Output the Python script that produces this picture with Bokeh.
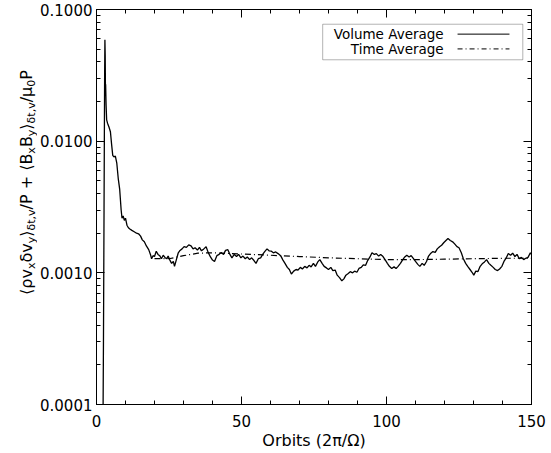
import math
from bokeh.plotting import figure
from bokeh.layouts import row
from bokeh.models import (Range1d, FixedTicker, LinearAxis, LogAxis, PrintfTickFormatter,
                          CustomJSTickFormatter, Label, BoxAnnotation, Arrow)
from bokeh.embed import file_html
from bokeh.resources import INLINE

# ---------------- data ----------------
orbits = [2.2, 2.4, 2.6, 2.8, 2.9, 3.0, 3.1, 3.15, 3.3, 3.5, 3.8, 4.3, 4.8, 5.2, 5.6, 6.0, 6.5,
          7.0, 7.5, 8.0, 8.5, 8.8, 9.2, 9.6, 10.0, 10.5, 11.0, 11.5, 12.2, 13.0, 13.8, 14.5,
          15.2, 15.8, 16.5, 17.2, 18.0, 18.6, 19.0, 19.5, 20.0, 20.6, 21.2, 21.8, 22.4, 23.0,
          23.6, 24.2, 24.7, 25.3, 25.9, 26.5, 26.9, 27.5, 28.2, 28.8, 29.5, 30.2, 31.0, 31.8,
          32.6, 33.3, 34.0, 34.8, 35.5, 36.2, 37.0, 37.8, 38.5, 39.3, 40.0, 40.7, 41.5, 42.3,
          43.0, 43.8, 44.5, 45.3, 46.0, 46.7, 47.5, 48.3, 49.0, 49.8, 50.5, 51.3, 52.0, 52.8,
          53.5, 54.3, 55.0, 55.8, 56.6, 57.3, 58.0, 58.8, 59.5, 60.3, 61.0, 61.8, 62.6, 63.5,
          64.3, 65.0, 65.8, 66.5, 67.2, 68.0, 68.8, 69.5, 70.3, 71.0, 71.8, 72.6, 73.3, 74.0,
          74.8, 75.5, 76.3, 77.0, 77.8, 78.5, 79.3, 80.0, 80.8, 81.5, 82.3, 83.0, 83.8, 84.6,
          85.3, 86.0, 86.8, 87.5, 88.3, 89.0, 89.8, 90.5, 91.3, 92.0, 92.8, 93.5, 94.3, 95.0,
          95.8, 96.5, 97.3, 98.0, 98.8, 99.5, 100.3, 101.0, 101.8, 102.6, 103.3, 104.0, 104.8,
          105.5, 106.3, 107.0, 107.8, 108.5, 109.3, 110.0, 110.8, 111.5, 112.3, 113.0, 113.8,
          114.5, 115.3, 116.0, 116.8, 117.5, 118.3, 119.0, 119.8, 120.5, 121.2, 122.0, 122.8,
          123.5, 124.3, 125.0, 125.8, 126.5, 127.3, 128.0, 128.8, 129.5, 130.1, 130.8, 131.5,
          132.3, 133.0, 133.8, 134.5, 135.3, 136.0, 136.8, 137.5, 138.3, 139.0, 139.8, 140.5,
          141.3, 142.0, 142.8, 143.5, 144.3, 145.0, 145.8, 146.5, 147.3, 148.0, 148.8, 149.6,
          150.0]
volume_average = [0.00005, 0.0003, 0.003, 0.03, 0.059, 0.045, 0.022, 0.027, 0.019, 0.0145,
                  0.0137, 0.0128, 0.0118, 0.0095, 0.0078, 0.0076, 0.0077, 0.0068, 0.0052,
                  0.0043, 0.0030, 0.0026, 0.0027, 0.0025, 0.0026, 0.0023, 0.0022, 0.00215,
                  0.0021, 0.00205, 0.0020, 0.00198, 0.0019, 0.00178, 0.00172, 0.0016, 0.0015,
                  0.00138, 0.00128, 0.00135, 0.00133, 0.00146, 0.00138, 0.00135, 0.00128,
                  0.00136, 0.00131, 0.00128, 0.00134, 0.00125, 0.00118, 0.00122, 0.00112,
                  0.00125, 0.00142, 0.00148, 0.00152, 0.00158, 0.00156, 0.00163, 0.0016,
                  0.00152, 0.00155, 0.00149, 0.00156, 0.00147, 0.00152, 0.00158, 0.00143,
                  0.00132, 0.00125, 0.00122, 0.00135, 0.00138, 0.00143, 0.00138, 0.00148,
                  0.0015, 0.00138, 0.0013, 0.00138, 0.00133, 0.00138, 0.0013, 0.00134,
                  0.00128, 0.00132, 0.00126, 0.0013, 0.00124, 0.00118, 0.00128, 0.0013,
                  0.00138, 0.00145, 0.00152, 0.00147, 0.00146, 0.00142, 0.00144, 0.0014,
                  0.00135, 0.00125, 0.00118, 0.0011, 0.00106, 0.00098, 0.00103, 0.00106,
                  0.00105, 0.0011, 0.00107, 0.00112, 0.00109, 0.00114, 0.00111, 0.00118,
                  0.00112, 0.00121, 0.00126, 0.00118, 0.00112, 0.00109, 0.00106, 0.0011,
                  0.00104, 0.00105, 0.00096, 0.00092, 0.00087, 0.0009, 0.00096, 0.00099,
                  0.00102, 0.001, 0.00103, 0.00101, 0.00108, 0.0011, 0.00115, 0.00114,
                  0.00124, 0.00132, 0.00142, 0.00138, 0.0014, 0.00134, 0.00138, 0.00133,
                  0.00126, 0.00118, 0.00112, 0.00108, 0.00111, 0.00108, 0.00112, 0.00118,
                  0.00125, 0.00132, 0.00136, 0.00132, 0.00135, 0.00128, 0.00122, 0.00116,
                  0.00112, 0.00118, 0.00114, 0.00122, 0.00134, 0.00141, 0.00145, 0.00143,
                  0.00152, 0.00158, 0.00162, 0.0017, 0.00176, 0.00182, 0.00176, 0.00172,
                  0.00166, 0.00158, 0.00155, 0.00142, 0.00128, 0.00118, 0.00112, 0.00106,
                  0.00101, 0.00096, 0.00103, 0.00102, 0.00112, 0.00117, 0.00121, 0.00126,
                  0.00118, 0.00114, 0.0011, 0.00106, 0.00104, 0.00107, 0.00112, 0.00122,
                  0.0013, 0.0014, 0.00136, 0.00141, 0.00133, 0.00138, 0.00128, 0.00131,
                  0.00126, 0.00129, 0.00131, 0.00142, 0.00138]
time_orbits = [20, 25, 30, 35, 40, 50, 60, 70, 80, 90, 100, 110, 120, 130, 140, 150]
time_average = [0.00128, 0.00128, 0.00135, 0.00141, 0.00142, 0.00139, 0.00136, 0.00133,
                0.0013, 0.00128, 0.00126, 0.00126, 0.00127, 0.00128, 0.00129, 0.00129]
x_ticks = [0, 50, 100, 150]
y_ticks = [0.0001, 0.001, 0.01, 0.1]
series_names = ["Volume Average", "Time Average"]
x_label = "Orbits (2π/Ω)"
# y label pieces: (text, is_subscript)
y_label_parts = [("⟨ρv", 0), ("x", 1), ("δv", 0), ("y", 1), ("⟩", 0), ("δt,v", 1),
                 ("/P + ⟨B", 0), ("x", 1), ("B", 0), ("y", 1), ("⟩", 0), ("δt,v", 1),
                 ("/μ", 0), ("0", 1), ("P", 0)]

FONT = "DejaVu Sans"
H = 452
LW = 37  # width of the strip holding the y-axis title

p = figure(width=550 - LW, height=H, y_axis_type="log",
           x_range=Range1d(0, 150), y_range=Range1d(0.0001, 0.1),
           output_backend="svg", toolbar_location=None,
           min_border_left=95 - LW, min_border_right=19, min_border_top=9,
           min_border_bottom=44)
p.xgrid.visible = False
p.ygrid.visible = False
p.outline_line_color = "black"
p.outline_line_width = 1
p.background_fill_color = "white"
p.border_fill_color = "white"

x_minor = list(range(0, 151, 10))
y_minor = [k * 10 ** e for e in (-4, -3, -2) for k in range(2, 10)]
xticker = FixedTicker(ticks=x_ticks, minor_ticks=x_minor)
yticker = FixedTicker(ticks=y_ticks, minor_ticks=y_minor)

def style(ax):
    ax.axis_line_color = "black"
    ax.major_tick_line_color = "black"
    ax.minor_tick_line_color = "black"
    ax.major_tick_in = 8
    ax.major_tick_out = 0
    ax.minor_tick_in = 4
    ax.minor_tick_out = 0
    ax.major_label_text_font = FONT
    ax.major_label_text_font_size = "15px"
    ax.major_label_text_color = "black"

xa = p.xaxis[0]
xa.ticker = xticker
style(xa)
xa.major_label_standoff = 10
xa.axis_label = x_label
xa.axis_label_text_font = FONT
xa.axis_label_text_font_size = "16px"
xa.axis_label_text_font_style = "normal"
xa.axis_label_text_color = "black"
xa.axis_label_standoff = 1

ya = p.yaxis[0]
ya.ticker = yticker
style(ya)
ya.formatter = PrintfTickFormatter(format="%.4f")
ya.major_label_standoff = 4

blank = CustomJSTickFormatter(code="return ''")
top = LinearAxis(ticker=xticker, formatter=blank, major_label_standoff=0)
style(top)
p.add_layout(top, "above")
right = LogAxis(ticker=yticker, formatter=blank, major_label_standoff=0)
style(right)
p.add_layout(right, "right")

p.line(orbits, volume_average, line_color="black", line_width=1.3)
p.line(time_orbits, time_average, line_color="black", line_width=1.2, line_dash="6 3 1 3")

# legend (text then sample line, as in the original)
p.add_layout(BoxAnnotation(left=78, right=147, top=0.0773, bottom=0.0415,
                           fill_color=None, line_color="black", line_width=1))
for name, yy, dash in [(series_names[0], 0.065, "solid"), (series_names[1], 0.0502, "5 3 1 3")]:
    p.add_layout(Label(x=119.7, y=yy, text=name, text_align="right", text_baseline="middle",
                       text_font=FONT, text_font_size="13.5px", text_color="black"))
    p.add_layout(Arrow(end=None, x_start=124.5, y_start=yy, x_end=142.4, y_end=yy,
                       line_color="black", line_width=1, line_dash=dash))

# y-axis title strip: pieces (main text + subscripts), rotated
lab = figure(width=LW, height=H, x_range=Range1d(0, LW), y_range=Range1d(0, H),
             output_backend="svg", toolbar_location=None,
             min_border=0, min_border_left=0, min_border_right=0, min_border_top=0,
             min_border_bottom=0)
lab.axis.visible = False
lab.xgrid.visible = False
lab.ygrid.visible = False
lab.outline_line_color = None
lab.background_fill_color = "white"
lab.border_fill_color = "white"

em = {" ": 0.318, "+": 0.838, ",": 0.318, "/": 0.337, "0": 0.636, "B": 0.686, "P": 0.603,
      "t": 0.392, "v": 0.592, "x": 0.592, "y": 0.592, "ρ": 0.635, "δ": 0.612, "μ": 0.635,
      "⟨": 0.39, "⟩": 0.39}
main_fs, sub_fs = 16, 11
widths = [sum(em.get(c, 0.6) for c in t) * (sub_fs if s else main_fs) for t, s in y_label_parts]
total = sum(widths)
off = -total / 2
for (t, s), w in zip(y_label_parts, widths):
    lab.add_layout(Label(x=26, y=H - 198, text=t, angle=math.pi / 2, angle_units="rad",
                         text_align="left", text_baseline="alphabetic",
                         x_offset=4.5 if s else 0, y_offset=off,
                         text_font=FONT, text_font_size=f"{sub_fs if s else main_fs}px",
                         text_color="black"))
    off += w

layout = row(lab, p, spacing=0)
open("out.html", "w").write(file_html(layout, INLINE))
